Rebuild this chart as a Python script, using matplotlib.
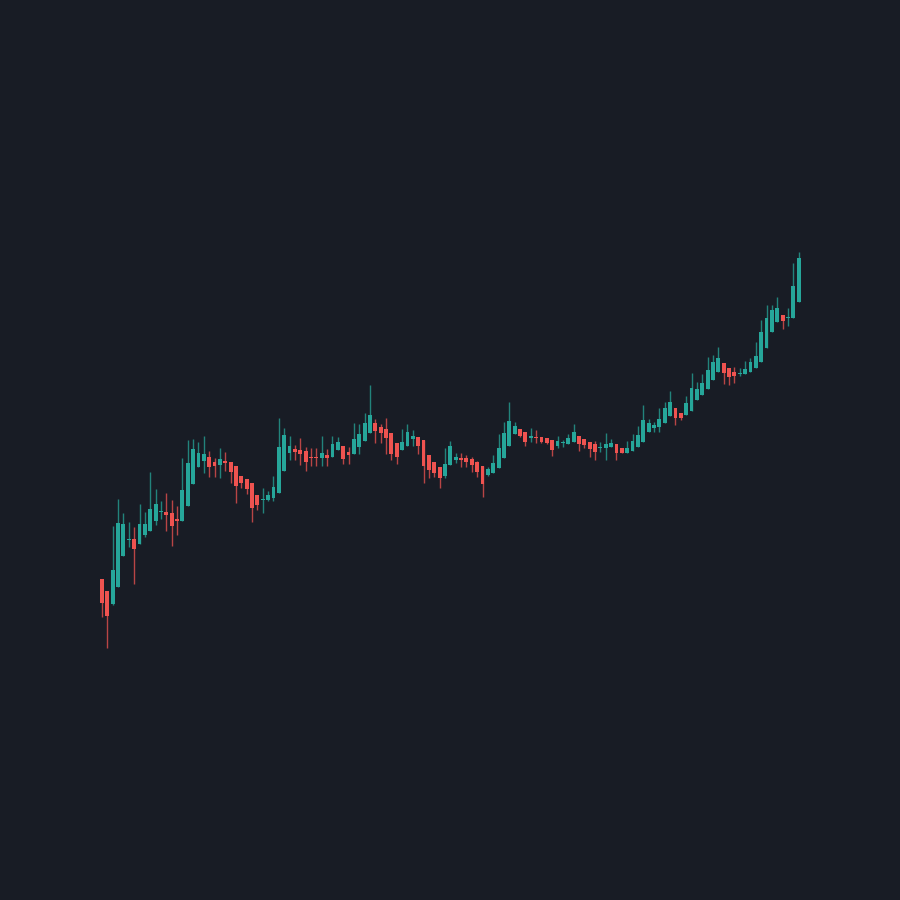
import numpy as np
import matplotlib.pyplot as plt

# свечи: open, high, low, close (условные единицы цены)
opens = [321, 309, 296, 313, 344, 360, 361, 356, 365, 369, 379, 388, 388, 387, 381, 379, 394, 416, 433, 439,
         443, 438, 435, 439, 438, 434, 424, 421, 417, 405, 400, 400, 402, 407, 429, 447, 451, 450, 449, 443,
         443, 442, 445, 443, 450, 454, 448, 446, 453, 459, 467, 477, 473, 471, 467, 457, 450, 454, 461, 463,
         460, 445, 438, 433, 424, 435, 440, 442, 442, 441, 438, 434, 425, 427, 432, 442, 454, 466, 471, 468,
         462, 463, 463, 462, 460, 454, 457.5, 456, 458, 464, 461, 458, 456, 452.5, 452, 453, 456, 452, 447, 449,
         453, 458, 468, 472, 473, 477, 484, 492, 487, 485, 489, 500, 505, 511, 520, 528, 537, 532, 528, 526.5,
         526, 528, 532, 538, 552, 568, 578, 585, 582.5, 582, 598]
highs = [321, 309, 374, 401, 387, 378, 373, 396, 388, 428, 411, 399, 407, 400, 394, 442, 460, 461, 458, 464,
         449, 442, 452, 448, 438, 434, 424, 421, 417, 405, 412, 409, 424, 482, 472, 464, 455, 462, 453, 452,
         452, 464, 451, 464, 463, 454, 453, 477, 476, 487, 515, 481, 476, 482, 467, 457, 471, 476, 470, 463,
         460, 445, 438, 433, 452, 459, 447, 447, 445, 443, 439, 434, 433, 445, 466, 478, 498, 478, 471, 468,
         472, 470, 463, 462, 460, 464, 460, 466, 476, 464, 461, 458, 459, 458, 467, 461, 456, 452, 459, 466,
         474, 495, 481, 478, 492, 498, 509, 492, 487, 504, 527, 518, 526, 543, 545, 553, 537, 532, 533, 532,
         539, 542, 558, 580, 595, 595, 603, 585, 592, 637, 648]
lows = [283, 252, 295, 313, 344, 353, 316, 356, 363, 369, 375, 381, 369, 354, 365, 379, 394, 416, 433, 427,
        423, 423, 422, 429, 417, 397, 412, 406, 378, 390, 387, 399, 399, 407, 429, 440, 440, 435, 429, 434,
        434, 434, 434, 443, 450, 436, 436, 446, 446, 459, 467, 457, 457, 446, 440, 436, 450, 454, 454, 446,
        417, 422, 423, 412, 422, 435, 437, 433, 433, 428, 423, 403, 424, 427, 432, 442, 454, 466, 463, 454,
        458, 457, 457, 456, 444, 452, 453, 456, 458, 449, 452, 443, 440, 448, 440, 453, 440, 447, 447, 449,
        453, 458, 468, 468, 468, 477, 484, 475, 480, 485, 489, 500, 505, 511, 520, 528, 516, 515, 517, 524,
        526, 528, 532, 538, 552, 568, 578, 571, 574, 582, 598]
closes = [297, 284, 330, 377, 376, 361, 351, 376, 376, 391, 396, 389, 385, 374, 379, 410, 437, 451, 447, 446,
          433, 434, 441, 437, 428, 414, 417, 411, 392, 395, 401, 405, 413, 453, 465, 454, 448, 446, 438, 442.5,
          442, 447, 442, 456, 458, 441, 445, 461, 466, 477, 485, 469, 467, 462, 446, 443, 458, 468, 464, 454,
          434, 430, 427, 422, 436, 454, 443, 440, 438, 435, 428, 416, 431, 437, 452, 467, 479, 474, 464, 458,
          464, 462.5, 458, 457, 450, 459, 458, 462, 468, 456, 455, 451, 448, 453, 456, 457, 447, 447, 452, 459,
          465, 480, 477, 475, 481, 492, 498, 482, 482, 497, 512, 511, 517, 530, 538, 542, 527, 523, 524, 527,
          531, 538, 544, 568, 582, 590, 592, 579, 583, 614, 642]

up_color = '#26a69a'
down_color = '#ef5350'
bg_color = '#181c25'

o = np.array(opens)
h = np.array(highs)
l = np.array(lows)
c = np.array(closes)
idx = np.arange(len(o))
colors = np.where(c >= o, up_color, down_color)

fig = plt.figure(figsize=(9, 9), dpi=100, facecolor=bg_color)
ax = fig.add_axes([0, 0, 1, 1], facecolor=bg_color)

# фитили
ax.vlines(idx, l, h, colors=colors, linewidth=1, alpha=0.75)

# тела свечей
body_bottom = np.minimum(o, c)
body_height = np.maximum(np.abs(c - o), 1.0)
ax.bar(idx, body_height, bottom=body_bottom, width=0.72, color=colors, linewidth=0)

ax.set_xlim(-19.03, 148.9)
ax.set_ylim(0, 900)
ax.axis('off')

plt.savefig('out.png', dpi=100, facecolor=bg_color)
